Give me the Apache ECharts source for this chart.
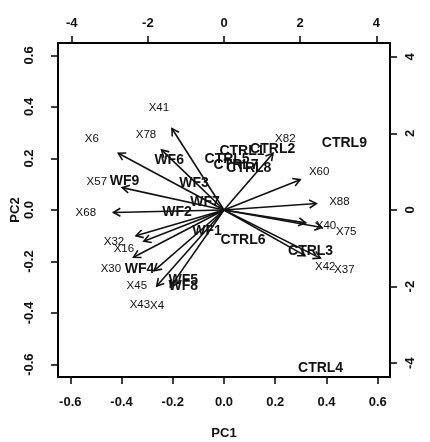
<!DOCTYPE html>
<html><head><meta charset="utf-8">
<script src="https://cdn.jsdelivr.net/npm/echarts@6/dist/echarts.min.js"></script>
<style>html,body{margin:0;padding:0;background:#fff}#c{width:430px;height:442px}</style>
</head><body><div id="c"></div>
<script>
// Observation scores (bottom / left axes)
const obsNames = ['CTRL1','CTRL2','CTRL3','CTRL4','CTRL5','CTRL6','CTRL7','CTRL8','CTRL9',
                  'WF1','WF2','WF3','WF4','WF5','WF6','WF7','WF8','WF9'];
const obsPC1 = [0.070, 0.190, 0.338, 0.377, 0.012, 0.074, 0.047, 0.097, 0.470,
                -0.066, -0.183, -0.117, -0.330, -0.159, -0.214, -0.074, -0.159, -0.388];
const obsPC2 = [0.229, 0.237, -0.159, -0.614, 0.198, -0.117, 0.175, 0.163, 0.260,
                -0.082, -0.008, 0.105, -0.229, -0.272, 0.194, 0.031, -0.295, 0.113];
// Variable loadings (top / right axes)
const varNames = ['X41','X78','X6','X57','X68','X32','X16','X30','X45','X43','X4',
                  'X82','X60','X88','X40','X75','X42','X37'];
const varPC1 = [-1.71, -2.05, -3.47, -3.34, -3.63, -2.89, -2.63, -2.97, -2.29, -2.21, -1.76,
                1.61, 2.50, 3.03, 2.68, 3.21, 2.66, 3.16];
const varPC2 = [2.66, 1.96, 1.85, 0.73, -0.08, -0.84, -1.02, -1.54, -1.98, -2.48, -2.51,
                1.85, 0.99, 0.21, -0.42, -0.57, -1.49, -1.57];
// Tick labels
const pcTicks = [-0.6, -0.4, -0.2, 0.0, 0.2, 0.4, 0.6];
const loadTicks = [-4, -2, 0, 2, 4];
const arrowScale = 0.8;

const FONT = "'Liberation Sans', Arial, Helvetica, sans-serif";
const INK = '#111';

function axisCommon(ticks, fmt, margin, extra) {
  return Object.assign({
    type: 'value',
    splitLine: { show: false },
    axisLine: { show: true, onZero: false, lineStyle: { color: '#000', width: 2 } },
    axisTick: { show: true, customValues: ticks, length: 7, lineStyle: { color: '#000', width: 1.5 } },
    axisLabel: { customValues: ticks, formatter: fmt, margin: margin, color: INK,
                 fontFamily: FONT, fontSize: 13, fontWeight: 'bold' }
  }, extra);
}

const chart = echarts.init(document.getElementById('c'), null, { renderer: 'canvas' });

const obsData = obsNames.map((n, i) => [obsPC1[i], obsPC2[i], n]);
const varData = varNames.map((n, i) => [varPC1[i], varPC2[i], n]);

function textItem(size, weight) {
  return function (params, api) {
    const p = api.coord([api.value(0), api.value(1)]);
    return {
      type: 'text', x: p[0], y: p[1],
      style: { text: api.value(2), fill: INK, fontFamily: FONT, fontSize: size, fontWeight: weight,
               align: 'center', verticalAlign: 'middle' }
    };
  };
}

function arrowItem(params, api) {
  const p0 = api.coord([0, 0]);
  const p1 = api.coord([api.value(0) * arrowScale, api.value(1) * arrowScale]);
  const ang = Math.atan2(p1[1] - p0[1], p1[0] - p0[0]);
  const L = 8, a = Math.PI / 6;
  const h1 = [p1[0] - L * Math.cos(ang - a), p1[1] - L * Math.sin(ang - a)];
  const h2 = [p1[0] - L * Math.cos(ang + a), p1[1] - L * Math.sin(ang + a)];
  return {
    type: 'group', children: [
      { type: 'line', shape: { x1: p0[0], y1: p0[1], x2: p1[0], y2: p1[1] },
        style: { stroke: '#111', lineWidth: 1.6 } },
      { type: 'polyline', shape: { points: [h1, p1, h2] },
        style: { stroke: '#111', lineWidth: 1.6, fill: null } }
    ]
  };
}

chart.setOption({
  animation: false,
  backgroundColor: '#fff',
  grid: { left: 58, right: 40, top: 43, bottom: 65, containLabel: false, outerBoundsMode: 'none' },
  xAxis: [
    axisCommon(pcTicks, v => v.toFixed(1), 19, {
      position: 'bottom', min: -0.648, max: 0.648,
      name: 'PC1', nameLocation: 'middle', nameGap: 50, nameMoveOverlap: false,
      nameTextStyle: { color: INK, fontFamily: FONT, fontSize: 13, fontWeight: 'bold' }
    }),
    axisCommon(loadTicks, v => String(v), 13, { position: 'top', min: -4.36, max: 4.36 })
  ],
  yAxis: [
    axisCommon(pcTicks, v => v.toFixed(1), 22, {
      position: 'left', min: -0.648, max: 0.648,
      name: 'PC2', nameLocation: 'middle', nameGap: 36, nameRotate: 90, nameMoveOverlap: false,
      nameTextStyle: { color: INK, fontFamily: FONT, fontSize: 13, fontWeight: 'bold' }
    }),
    axisCommon(loadTicks, v => String(v), 14, { position: 'right', min: -4.36, max: 4.36 })
  ],
  series: [
    { type: 'custom', name: 'obs', xAxisIndex: 0, yAxisIndex: 0, data: obsData,
      encode: { x: 0, y: 1 }, renderItem: textItem(14, 'bold'), silent: true, z: 2 },
    { type: 'custom', name: 'arrows', xAxisIndex: 1, yAxisIndex: 1, data: varData,
      encode: { x: 0, y: 1 }, renderItem: arrowItem, silent: true, z: 3 },
    { type: 'custom', name: 'vars', xAxisIndex: 1, yAxisIndex: 1, data: varData,
      encode: { x: 0, y: 1 }, renderItem: textItem(11.5, 'normal'), silent: true, z: 4 }
  ]
});
// rotate y-axis labels parallel to axis
chart.setOption({ yAxis: [{ axisLabel: { rotate: 90 } }, { axisLabel: { rotate: 90 } }] });
</script>
</body></html>
